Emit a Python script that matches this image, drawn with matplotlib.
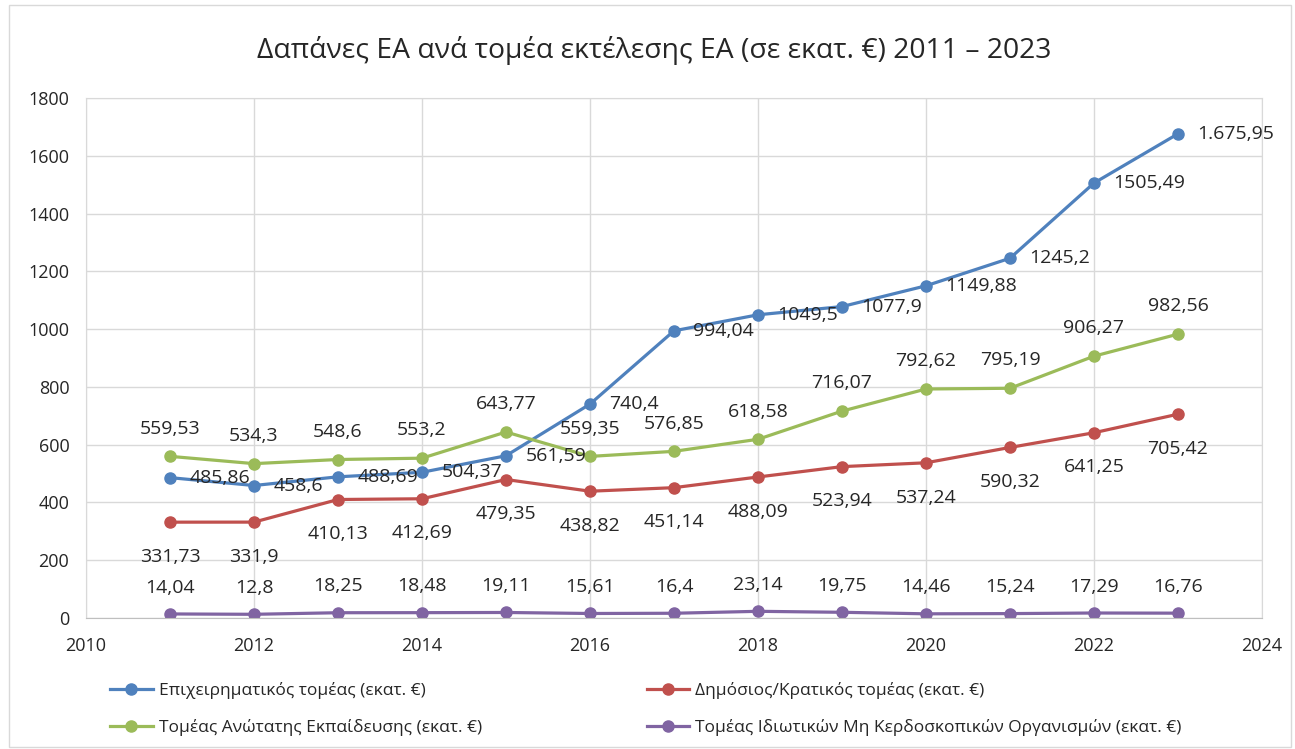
import numpy as np
import matplotlib.pyplot as plt
from matplotlib.patches import Rectangle

plt.rcParams['font.family'] = ['Open Sans', 'DejaVu Sans']

years = [2011, 2012, 2013, 2014, 2015, 2016, 2017, 2018, 2019, 2020, 2021, 2022, 2023]

business = [485.86, 458.6, 488.69, 504.37, 561.59, 740.4, 994.04, 1049.5, 1077.9, 1149.88, 1245.2, 1505.49, 1675.95]
business_lbl = ['485,86', '458,6', '488,69', '504,37', '561,59', '740,4', '994,04', '1049,5', '1077,9',
                '1149,88', '1245,2', '1505,49', '1.675,95']

government = [331.73, 331.9, 410.13, 412.69, 479.35, 438.82, 451.14, 488.09, 523.94, 537.24, 590.32, 641.25, 705.42]
government_lbl = ['331,73', '331,9', '410,13', '412,69', '479,35', '438,82', '451,14', '488,09', '523,94',
                  '537,24', '590,32', '641,25', '705,42']

higher_ed = [559.53, 534.3, 548.6, 553.2, 643.77, 559.35, 576.85, 618.58, 716.07, 792.62, 795.19, 906.27, 982.56]
higher_ed_lbl = ['559,53', '534,3', '548,6', '553,2', '643,77', '559,35', '576,85', '618,58', '716,07',
                 '792,62', '795,19', '906,27', '982,56']

nonprofit = [14.04, 12.8, 18.25, 18.48, 19.11, 15.61, 16.4, 23.14, 19.75, 14.46, 15.24, 17.29, 16.76]
nonprofit_lbl = ['14,04', '12,8', '18,25', '18,48', '19,11', '15,61', '16,4', '23,14', '19,75',
                 '14,46', '15,24', '17,29', '16,76']

names = ['Επιχειρηματικός τομέας (εκατ. €)',
         'Δημόσιος/Κρατικός τομέας (εκατ. €)',
         'Τομέας Ανώτατης Εκπαίδευσης (εκατ. €)',
         'Τομέας Ιδιωτικών Μη Κερδοσκοπικών Οργανισμών (εκατ. €)']
colors = ['#4f81bd', '#c0504d', '#9bbb59', '#8064a2']

fig = plt.figure(figsize=(12.95, 7.49), dpi=100)
ax = fig.add_axes([0.0664, 0.1749, 0.9081, 0.6943])

series = [(business, business_lbl), (government, government_lbl),
          (higher_ed, higher_ed_lbl), (nonprofit, nonprofit_lbl)]
# label offsets in points: right, below, above, above
offsets = [((14, 0), 'left'), ((0, -25), 'center'),
           ((0, 20), 'center'), ((0, 19), 'center')]

lines = []
for (vals, lbls), col, name, (off, ha) in zip(series, colors, names, offsets):
    ln, = ax.plot(years, vals, color=col, lw=2.3, marker='o', ms=8, label=name)
    lines.append(ln)
    for x, y, t in zip(years, vals, lbls):
        ax.annotate(t, (x, y), xytext=off, textcoords='offset points',
                    ha=ha, va='center', fontsize=14, color='#262626')

ax.set_xlim(2010, 2024)
ax.set_ylim(0, 1800)
ax.set_xticks(range(2010, 2025, 2))
ax.set_yticks(range(0, 1801, 200))
ax.grid(True, color='#d9d9d9', lw=1)
ax.set_axisbelow(True)
for s in ax.spines.values():
    s.set_color('#d9d9d9')
ax.spines['bottom'].set_color('#bfbfbf')
ax.tick_params(length=0, labelsize=13, colors='#262626')
ax.tick_params(axis='y', pad=12)
ax.tick_params(axis='x', pad=14)

fig.text(0.505, 0.932, 'Δαπάνες ΕΑ ανά τομέα εκτέλεσης ΕΑ (σε εκατ. €) 2011 – 2023',
         ha='center', va='center', fontsize=20.3, color='#262626')

fig.legend([lines[0], lines[2], lines[1], lines[3]],
           [names[0], names[2], names[1], names[3]],
           ncol=2, loc='lower left', bbox_to_anchor=(0.073, -0.003),
           frameon=False, fontsize=12.5, columnspacing=9.5, handlelength=2.45,
           handletextpad=0.35, labelspacing=1.15, labelcolor='#262626')

fig.patches.append(Rectangle((0.007, 0.003), 0.99, 0.99, transform=fig.transFigure,
                             fill=False, edgecolor='#d9d9d9', lw=1))

fig.savefig('out.png', dpi=100, facecolor='white')
